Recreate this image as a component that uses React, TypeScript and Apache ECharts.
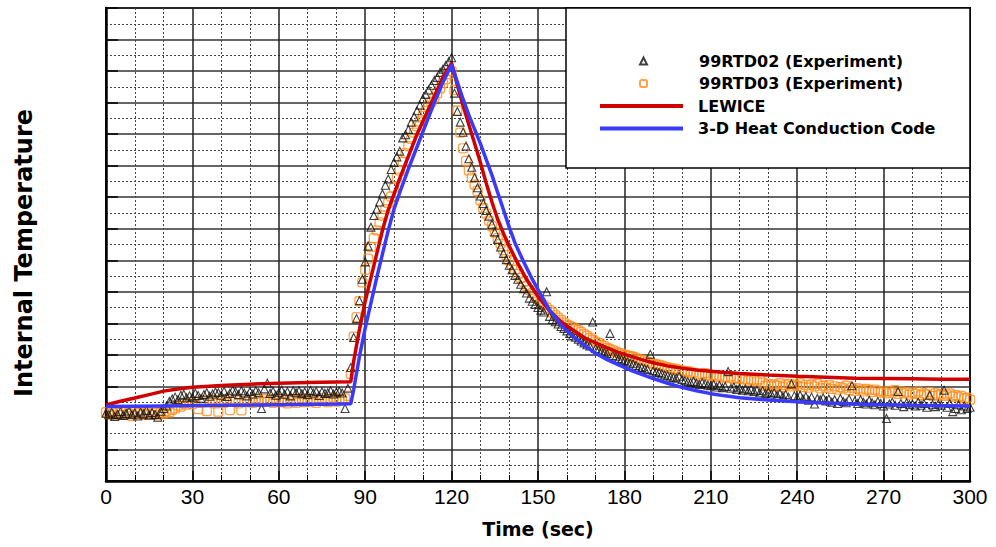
import React, { useEffect, useRef } from "react";
import * as echarts from "echarts";

// ---- Data (time in seconds, temperature in relative chart units 0..15) ----
const xTicks = [0, 30, 60, 90, 120, 150, 180, 210, 240, 270, 300];

// Experimental samples, one per second starting at t = 0
const rtd02: number[] = [
  2.15, 2.10, 2.18, 2.05, 2.12, 2.20, 2.08, 2.14, 2.22, 2.10,
  2.16, 2.06, 2.19, 2.13, 2.24, 2.09, 2.17, 2.11, 2.02, 2.21,
  2.30, 2.38, 2.52, 2.60, 2.66, 2.58, 2.72, 2.75, 2.64, 2.70,
  2.66, 2.78, 2.71, 2.62, 2.74, 2.80, 2.69, 2.76, 2.82, 2.80,
  2.72, 2.85, 2.68, 2.78, 2.88, 2.83, 2.74, 2.86, 2.79, 2.70,
  2.84, 2.76, 2.86, 2.80, 2.30, 2.92, 3.10, 2.78, 2.85, 2.72,
  2.80, 2.88, 2.75, 2.83, 2.70, 2.86, 2.80, 2.86, 2.77, 2.82,
  2.74, 2.87, 2.79, 2.84, 2.71, 2.83, 2.78, 2.80, 2.86, 2.76,
  2.82, 2.85, 2.79, 2.30, 2.94, 3.60, 4.55, 5.15, 5.72, 6.40,
  6.95, 7.45, 8.05, 8.42, 8.62, 8.85, 9.10, 9.38, 9.58, 9.88,
  10.10, 10.28, 10.46, 10.88, 10.98, 11.15, 11.38, 11.55, 11.74, 11.92,
  12.12, 12.26, 12.40, 12.55, 12.70, 12.80, 12.96, 13.06, 13.18, 13.30,
  13.42, 12.30, 11.72, 11.38, 11.06, 10.62, 10.22, 9.95, 9.62, 9.30,
  9.04, 8.80, 8.58, 8.40, 8.14, 7.90, 7.66, 7.42, 7.22, 7.02,
  6.84, 6.70, 6.52, 6.40, 6.24, 6.10, 5.96, 5.80, 5.70, 5.60,
  5.50, 5.42, 5.36, 6.00, 5.22, 5.12, 5.05, 4.98, 4.90, 4.84,
  4.76, 4.68, 4.60, 4.56, 4.50, 4.44, 4.38, 4.32, 4.28, 5.04,
  4.20, 4.16, 4.12, 4.08, 4.04, 4.68, 3.98, 3.94, 3.88, 3.86,
  3.82, 3.78, 3.74, 3.72, 3.66, 3.60, 3.60, 3.56, 3.54, 4.02,
  3.50, 3.46, 3.44, 3.40, 3.36, 3.34, 3.30, 3.28, 3.26, 3.32,
  3.22, 3.18, 3.15, 3.12, 3.16, 3.10, 3.06, 3.12, 3.08, 3.04,
  3.02, 3.06, 2.98, 3.03, 2.96, 3.00, 3.47, 2.94, 2.98, 2.90,
  2.95, 2.88, 2.92, 2.86, 2.90, 2.84, 2.88, 2.80, 2.86, 2.78,
  2.82, 2.76, 2.80, 2.72, 2.78, 2.68, 2.74, 2.66, 3.08, 2.70,
  2.64, 2.72, 2.60, 2.68, 2.56, 2.66, 2.44, 2.62, 2.58, 2.64,
  2.54, 2.60, 2.50, 2.58, 2.46, 2.62, 2.52, 2.48, 2.60, 3.02,
  2.54, 2.46, 2.58, 2.50, 2.44, 2.56, 2.48, 2.42, 2.52, 2.46,
  2.38, 1.98, 2.44, 2.50, 2.40, 2.84, 2.46, 2.36, 2.48, 2.42,
  2.44, 2.38, 2.50, 2.40, 2.46, 2.34, 2.72, 2.42, 2.36, 2.44,
  2.40, 2.88, 2.34, 2.46, 2.20, 2.30, 2.42, 2.26, 2.38, 2.30,
  2.34,
];

const rtd03: number[] = [
  2.18, 2.12, 2.22, 2.08, 2.16, 2.24, 2.10, 2.19, 2.14, 2.06,
  2.20, 2.15, 2.24, 2.10, 2.18, 2.12, 2.22, 2.16, 2.08, 2.20,
  2.14, 2.22, 2.18, 2.26, 2.30, 2.40, 2.36, 2.46, 2.42, 2.50,
  2.44, 2.52, 2.28, 2.48, 2.56, 2.22, 2.50, 2.58, 2.46, 2.20,
  2.54, 2.48, 2.60, 2.25, 2.52, 2.58, 2.46, 2.24, 2.55, 2.50,
  2.58, 2.48, 2.62, 2.54, 2.50, 2.60, 2.52, 2.56, 2.48, 2.62,
  2.54, 2.50, 2.58, 2.46, 2.60, 2.53, 2.48, 2.56, 2.62, 2.50,
  2.58, 2.52, 2.60, 2.48, 2.56, 2.62, 2.54, 2.50, 2.58, 2.64,
  2.52, 2.60, 2.56, 2.62, 2.70, 3.40, 4.58, 5.20, 5.70, 6.30,
  6.70, 7.05, 7.42, 7.70, 7.95, 8.20, 8.42, 8.62, 8.82, 9.02,
  9.30, 9.62, 9.85, 10.12, 10.40, 10.62, 10.85, 11.05, 11.25, 11.40,
  11.58, 11.74, 11.90, 12.02, 12.16, 12.30, 12.45, 12.62, 12.74, 12.90,
  13.00, 12.40, 11.75, 11.05, 10.55, 10.15, 9.85, 9.62, 9.40, 9.20,
  8.90, 8.66, 8.48, 8.26, 8.08, 7.88, 7.70, 7.52, 7.32, 7.16,
  7.00, 6.84, 6.70, 6.56, 6.44, 6.32, 6.18, 6.06, 5.96, 5.86,
  5.76, 5.68, 5.58, 5.50, 5.42, 5.34, 5.26, 5.18, 5.10, 5.02,
  4.96, 4.92, 4.88, 4.82, 4.78, 4.72, 4.66, 4.60, 4.54, 4.48,
  4.42, 4.38, 4.32, 4.28, 4.22, 4.18, 4.14, 4.10, 4.06, 4.04,
  4.00, 3.98, 3.96, 3.94, 3.90, 3.86, 3.84, 3.82, 3.78, 3.74,
  3.72, 3.70, 3.68, 3.66, 3.62, 3.60, 3.58, 3.56, 3.54, 3.52,
  3.50, 3.46, 3.48, 3.42, 3.44, 3.38, 3.34, 3.40, 3.42, 3.36,
  3.32, 3.36, 3.30, 3.34, 3.28, 3.30, 3.26, 3.32, 3.24, 3.28,
  3.26, 3.22, 3.24, 3.18, 3.22, 3.20, 3.16, 3.22, 3.12, 3.02,
  3.08, 3.00, 3.06, 3.02, 3.10, 2.98, 3.04, 3.08, 3.00, 3.06,
  3.02, 3.10, 2.98, 3.04, 2.96, 3.06, 3.00, 3.08, 2.94, 3.02,
  2.96, 3.04, 2.92, 3.00, 2.90, 2.98, 2.94, 3.02, 2.88, 2.96,
  2.86, 2.94, 2.90, 2.84, 2.92, 2.88, 2.82, 2.90, 2.86, 2.80,
  2.84, 2.78, 2.86, 2.80, 2.88, 2.76, 2.84, 2.78, 2.82, 2.74,
  2.80, 2.76, 2.84, 2.72, 2.78, 2.74, 2.82, 2.70, 2.78, 2.72,
  2.76, 2.70, 2.74, 2.78, 2.68, 2.72, 2.66, 2.70, 2.62, 2.64,
  2.58,
];

// LEWICE prediction
const lewiceT = [0, 5, 10, 15, 20, 25, 30, 40, 50, 60, 70, 80, 85, 86, 88, 90, 92, 94, 96, 98, 100, 102, 105, 108, 111, 114, 117, 120,
  122, 124, 126, 128, 130, 132, 134, 136, 138, 140, 143, 146, 150, 154, 158, 162, 166, 170, 174, 178, 182, 186, 190, 195,
  200, 205, 210, 215, 220, 230, 240, 250, 260, 270, 280, 290, 300];
const lewiceY = [2.41, 2.53, 2.63, 2.74, 2.85, 2.92, 2.97, 3.03, 3.07, 3.10, 3.12, 3.14, 3.15, 3.80, 4.80, 5.70, 6.45, 7.20, 7.95, 8.60, 9.10, 9.60, 10.30, 11.00, 11.60, 12.20, 12.80, 13.25,
  12.55, 11.90, 11.30, 10.70, 10.10, 9.45, 8.85, 8.30, 7.85, 7.45, 6.90, 6.40, 5.85, 5.40, 5.05, 4.80, 4.55, 4.38, 4.22, 4.08, 3.96, 3.85, 3.75, 3.65,
  3.58, 3.52, 3.48, 3.44, 3.41, 3.36, 3.32, 3.29, 3.26, 3.25, 3.24, 3.23, 3.23];

// 3-D heat conduction code prediction
const conductionT = [0, 20, 40, 60, 80, 85, 86, 88, 90, 92, 94, 96, 98, 100, 102, 105, 108, 111, 114, 117, 120,
  122, 124, 126, 128, 130, 132, 134, 136, 138, 140, 142, 145, 148, 151, 154, 158, 162, 166, 170, 174, 178, 182, 186, 190, 195,
  200, 205, 210, 215, 220, 230, 240, 250, 260, 270, 280, 290, 300];
const conductionY = [2.36, 2.38, 2.40, 2.42, 2.44, 2.45, 2.90, 3.95, 4.85, 5.65, 6.45, 7.20, 7.95, 8.62, 9.15, 9.90, 10.60, 11.30, 12.00, 12.65, 13.20,
  12.65, 12.10, 11.60, 11.15, 10.70, 10.20, 9.70, 9.15, 8.60, 8.05, 7.55, 6.95, 6.40, 5.90, 5.42, 4.95, 4.60, 4.30, 4.05, 3.85, 3.68, 3.52, 3.38, 3.25, 3.10,
  2.97, 2.86, 2.77, 2.70, 2.64, 2.57, 2.51, 2.47, 2.44, 2.42, 2.40, 2.39, 2.38];

const names = ["99RTD02 (Experiment)", "99RTD03 (Experiment)", "LEWICE", "3-D Heat Conduction Code"];

export default function App() {
  const ref = useRef<HTMLDivElement>(null);
  useEffect(() => {
    document.body.style.margin = "0";
    if (!ref.current) return;
    const chart = echarts.init(ref.current, null, { renderer: "svg" });
    const pts = (arr: number[]) => arr.map((v, i) => [i, v]);
    const linePts = (t: number[], y: number[]) => t.map((v, i) => [v, y[i]]);
    const dotted = { type: [2, 2] as any, color: "#444", width: 1 };
    const legendText = { fontFamily: "DejaVu Sans", fontWeight: "bold", fontSize: 16, color: "#000" };
    chart.setOption({
      animation: false,
      backgroundColor: "#fff",
      grid: { left: 106, right: 26, top: 8, bottom: 66, show: true, borderColor: "#000", borderWidth: 2, backgroundColor: "#fff" },
      xAxis: {
        type: "value", min: 0, max: 300, interval: 30,
        name: "Time (sec)", nameLocation: "middle", nameGap: 38,
        nameTextStyle: { fontFamily: "DejaVu Sans", fontWeight: "bold", fontSize: 19, color: "#000" },
        axisLine: { show: true, lineStyle: { color: "#000", width: 2.5 } },
        axisTick: { show: true, inside: true, length: 10, lineStyle: { color: "#000", width: 1.5 } },
        minorTick: { show: true, splitNumber: 3, length: 6, lineStyle: { color: "#000", width: 1 } },
        axisLabel: { fontFamily: "Liberation Sans", fontSize: 21, color: "#000", margin: 5,
          customValues: xTicks },
        splitLine: { show: true, lineStyle: { color: "#222", width: 1.5 } },
        minorSplitLine: { show: true, lineStyle: dotted },
      },
      yAxis: {
        type: "value", min: 0, max: 15, interval: 1,
        name: "Internal Temperature", nameLocation: "middle", nameGap: 70, nameRotate: 90,
        nameTextStyle: { fontFamily: "DejaVu Sans", fontWeight: "bold", fontSize: 24, color: "#000", padding: [0, 17, 0, 0] },
        axisLine: { show: true, lineStyle: { color: "#000", width: 2.5 } },
        axisTick: { show: true, inside: true, length: 12, lineStyle: { color: "#000", width: 1.5 } },
        axisLabel: { show: false },
        splitLine: { show: true, lineStyle: { color: "#333", width: 1.5 } },
        minorTick: { show: false, splitNumber: 2 },
        minorSplitLine: { show: true, lineStyle: dotted },
      },
      legend: [
        {
          orient: "vertical", left: 634, top: 48, z: 10,
          data: [names[0], names[1]],
          itemWidth: 7, itemHeight: 7, itemGap: 6.4,
          textStyle: { ...legendText, padding: [0, 0, 0, 47] },
        },
        {
          orient: "vertical", left: 595, top: 93, z: 10,
          data: [{ name: names[2], icon: "rect" }, { name: names[3], icon: "rect" }],
          itemWidth: 83, itemHeight: 4, itemGap: 6.4,
          textStyle: { ...legendText, padding: [0, 0, 0, 10] },
        },
      ],
      graphic: [{
        type: "rect", z: 8,
        shape: { x: 566, y: 8, width: 404, height: 160 },
        style: { fill: "#fff", stroke: "#000", lineWidth: 1.5 },
      }],
      series: [
        {
          name: names[1], type: "scatter", data: pts(rtd03), symbol: "roundRect", symbolSize: 9, z: 2,
          itemStyle: { color: "rgba(255,255,255,0)", borderColor: "#FF8C1A", borderWidth: 1.3 },
        },
        {
          name: names[0], type: "scatter", data: pts(rtd02), symbol: "triangle", symbolSize: 8, z: 3,
          itemStyle: { color: "rgba(255,255,255,0)", borderColor: "#111", borderWidth: 1.1 },
        },
        {
          name: names[2], type: "line", data: linePts(lewiceT, lewiceY), symbol: "none", z: 4,
          lineStyle: { color: "#D10000", width: 3.5 }, itemStyle: { color: "#D10000" },
        },
        {
          name: names[3], type: "line", data: linePts(conductionT, conductionY), symbol: "none", z: 5,
          lineStyle: { color: "#3A3AFF", width: 3.5 }, itemStyle: { color: "#3A3AFF" },
        },
      ],
    });
    return () => chart.dispose();
  }, []);
  return <div ref={ref} style={{ position: "absolute", left: 0, top: 0, width: 996, height: 547 }} />;
}
